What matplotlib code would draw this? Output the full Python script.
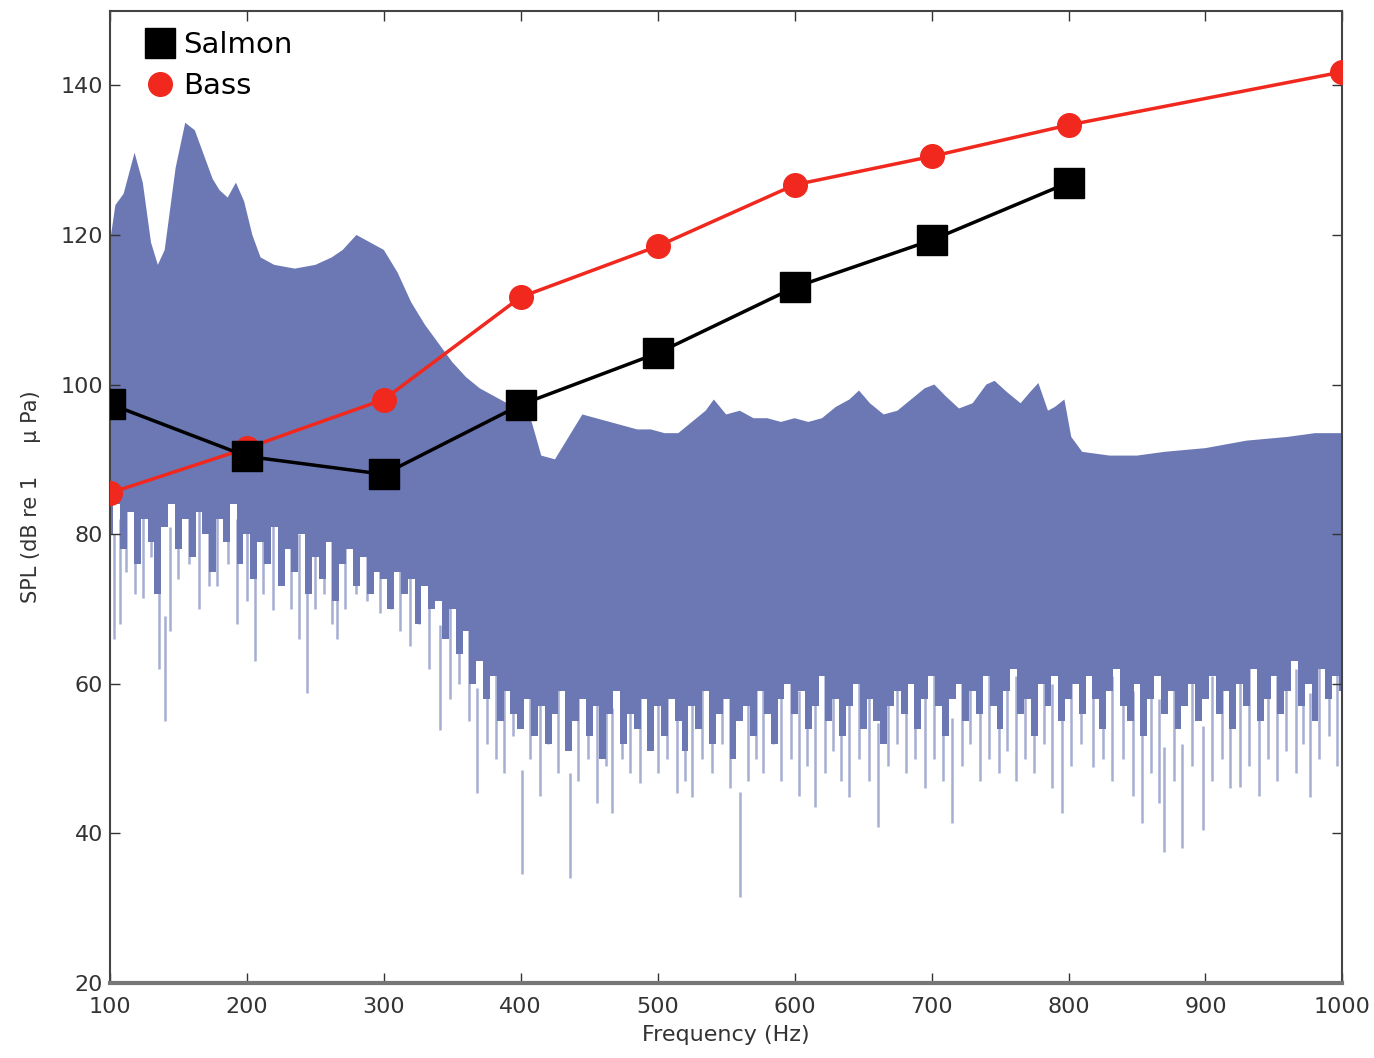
import matplotlib.pyplot as plt
from matplotlib.lines import Line2D

plt.rcParams['font.family'] = ['DejaVu Sans']

# hearing thresholds
freq_salmon = [100, 200, 300, 400, 500, 600, 700, 800]
spl_salmon = [97.4, 90.4, 88.0, 97.3, 104.2, 113.0, 119.3, 127.0]

freq_bass = [100, 200, 300, 400, 500, 600, 700, 800, 1000]
spl_bass = [85.5, 91.5, 98.0, 111.7, 118.5, 126.7, 130.5, 134.7, 141.8]

# noise spectrum: upper edge
noise_up_f = [100, 104, 110, 118, 124, 130, 135, 140, 148, 155, 162, 168, 175, 180, 186,
              192, 198, 204, 210, 220, 235, 250, 262, 270, 280, 290, 300, 310, 320, 330,
              340, 350, 360, 370, 380, 390, 400, 408, 415, 425, 435, 445, 455, 465, 475,
              485, 495, 505, 515, 525, 535, 541, 550, 560, 570, 580, 590, 600, 610, 620,
              630, 640, 647, 655, 665, 675, 685, 695, 702, 710, 720, 730, 740, 746, 755,
              765, 772, 778, 785, 790, 797, 802, 810, 830, 850, 870, 900, 930, 960, 980, 1000]
noise_up = [119, 124, 125.5, 131, 127, 119, 116, 118, 129, 135, 134, 131, 127.5, 126, 125,
            127, 124.5, 120, 117, 116, 115.5, 116, 117, 118, 120, 119, 118, 115, 111, 108,
            105.5, 103, 101, 99.5, 98.5, 97.5, 96.5, 95, 90.5, 90, 93, 96, 95.5, 95, 94.5,
            94, 94, 93.5, 93.5, 95, 96.5, 98, 96, 96.5, 95.5, 95.5, 95, 95.5, 95, 95.5,
            97, 98, 99.2, 97.5, 96, 96.5, 98, 99.5, 100, 98.5, 96.8, 97.5, 100, 100.5, 99,
            97.5, 99, 100.2, 96.5, 97, 98, 93, 91, 90.5, 90.5, 91, 91.5, 92.5, 93, 93.5, 93.5]

# noise spectrum: solid lower edge of the band
noise_lo_f = [100, 120, 140, 160, 180, 200, 220, 240, 260, 280, 300, 320, 340, 360, 380,
              400, 420, 440, 460, 480, 500, 520, 540, 560, 580, 600, 620, 640, 660, 680,
              700, 720, 740, 760, 780, 800, 820, 840, 860, 880, 900, 920, 940, 960, 980, 1000]
noise_lo = [87, 86, 86, 85, 85, 84, 83, 81, 80, 79, 78, 77, 75, 71, 66,
            64, 63, 62, 63, 62, 63, 62, 63, 62, 64, 64, 63, 64, 62, 63,
            64, 62, 64, 63, 64, 63, 64, 62, 63, 62, 63, 64, 62, 63, 64, 64]

# ragged bottom below the solid edge, every 5 Hz from 100 to 1000
streak_f = list(range(100, 1001, 5))
streak_lo = [80, 84, 78, 83, 76, 82, 79, 72, 81, 84, 78, 82, 77, 83, 80, 75, 82, 79, 84, 76, 80,
             74, 79, 76, 81, 73, 78, 75, 80, 72, 77, 74, 79, 71, 76, 78, 73, 77, 72, 75, 74,
             70, 75, 72, 74, 68, 73, 70, 71, 66, 70, 64, 67, 60, 63, 58, 61, 55, 59, 56, 54,
             58, 53, 57, 52, 56, 59, 51, 55, 58, 53, 57, 50, 56, 59, 52, 56, 54, 58, 51, 57,
             53, 58, 55, 51, 57, 54, 59, 52, 56, 58, 50, 55, 57, 53, 59, 56, 52, 58, 60, 56,
             59, 54, 57, 61, 55, 58, 53, 57, 60, 54, 58, 55, 52, 57, 59, 56, 60, 54, 58, 61,
             57, 53, 58, 60, 55, 59, 56, 61, 57, 54, 59, 62, 56, 58, 53, 60, 57, 61, 55, 58,
             60, 56, 61, 58, 54, 59, 62, 57, 55, 60, 53, 58, 61, 56, 59, 54, 57, 60, 55, 58,
             61, 56, 59, 54, 60, 57, 62, 55, 58, 61, 56, 59, 63, 57, 60, 55, 62, 58, 61, 59]

# deep notches below the band
dip_f = [103, 107, 112, 118, 124, 130, 136, 140, 144, 150, 158, 165, 172, 178, 186, 193,
         200, 206, 212, 219, 226, 232, 238, 244, 250, 256, 262, 266, 272, 280, 288, 297,
         305, 312, 319, 326, 333, 341, 348, 355, 362, 368, 375, 382, 388, 394, 401, 407,
         414, 420, 427, 436, 442, 449, 456, 462, 467, 474, 480, 487, 494, 500, 507, 514,
         520, 525, 532, 540, 547, 553, 560, 566, 572, 577, 584, 590, 597, 603, 609, 615,
         622, 628, 634, 640, 647, 654, 661, 668, 675, 681, 688, 695, 702, 708, 715, 722,
         728, 735, 742, 749, 755, 762, 768, 775, 782, 788, 795, 802, 809, 818, 825, 832,
         840, 847, 854, 860, 866, 870, 877, 883, 890, 898, 905, 912, 918, 925, 932, 939,
         946, 952, 959, 966, 971, 976, 983, 990, 996]
dip_spl = [66, 68, 75, 72, 71.5, 77, 62, 55, 67, 74, 76, 70, 73, 73, 76, 68,
           71, 63, 72, 69.8, 74, 70, 66, 58.7, 70, 72, 68, 66, 70, 72, 71, 69.4,
           70, 67, 65, 68, 62, 53.8, 58, 60, 55, 45.4, 52, 50, 48, 53, 34.5, 50,
           45, 52, 48, 34, 47, 50, 44, 49, 42.7, 50, 48, 46.7, 52, 48, 50, 45.4,
           47, 44.8, 50, 48, 52, 46, 31.5, 47, 50, 48, 52, 47, 50, 45, 49, 43.5,
           48, 51, 47, 44.8, 50, 47, 40.8, 49, 52, 48, 50, 46, 50, 47, 41.4, 49,
           52, 47, 50, 48, 51, 47, 50, 48, 52, 46, 42.7, 49, 52, 48.8, 50, 47,
           50, 45, 41.4, 48, 44, 37.5, 47, 38, 49, 40.4, 47, 50, 46, 46.2, 49, 45,
           50, 47, 51, 48, 52, 44.8, 50, 53, 49]

noise_color = '#6b78b4'

fig = plt.figure(figsize=(13.74, 10.58), dpi=100)
ax = fig.add_axes([0.080, 0.071, 0.897, 0.919])

# band polygon: upper edge left->right, lower edge right->left
poly_x = noise_up_f + noise_lo_f[::-1]
poly_y = noise_up + noise_lo[::-1]
ax.fill(poly_x, poly_y, color=noise_color, lw=0, zorder=1)

# ragged stepped bottom and the lighter deep notches
ax.fill_between(streak_f, streak_lo, 88, step='mid', color=noise_color, lw=0, zorder=1)
ax.vlines(dip_f, dip_spl, [v + 14 for v in dip_spl], color=noise_color, lw=1.8,
          alpha=0.6, zorder=0.9)

ax.plot(freq_bass, spl_bass, '-o', color='#f0281e', lw=2.5, markersize=17,
        markeredgecolor='#f0281e', zorder=3)
ax.plot(freq_salmon, spl_salmon, '-s', color='black', lw=2.5, markersize=21, zorder=4)

ax.set_xlim(100, 1000)
ax.set_ylim(20, 150)
ax.set_xticks(range(100, 1001, 100))
ax.set_yticks(range(20, 141, 20))
ax.tick_params(direction='in', length=7, width=1, top=True, right=True,
               labelsize=16, colors='#333333', pad=5)
ax.tick_params(axis='x', pad=10)
for s in ax.spines.values():
    s.set_color('#444444')
    s.set_linewidth(1.5)
ax.spines['bottom'].set_linewidth(3)
ax.spines['bottom'].set_color('#777777')

ax.set_xlabel('Frequency (Hz)', fontsize=16, color='#333333', labelpad=6)
ax.set_ylabel('SPL (dB re 1     µ Pa)', fontsize=15, color='#333333', labelpad=14)

handles = [Line2D([], [], ls='none', marker='s', color='black', markersize=21),
           Line2D([], [], ls='none', marker='o', color='#f0281e', markersize=17)]
ax.legend(handles, ['Salmon', 'Bass'], loc='upper left', frameon=False, fontsize=21,
          handletextpad=0.2, borderaxespad=0.3, labelspacing=0.45, handlelength=1.2,
          bbox_to_anchor=(0.01, 1.0))

plt.savefig('out.png', dpi=100)
